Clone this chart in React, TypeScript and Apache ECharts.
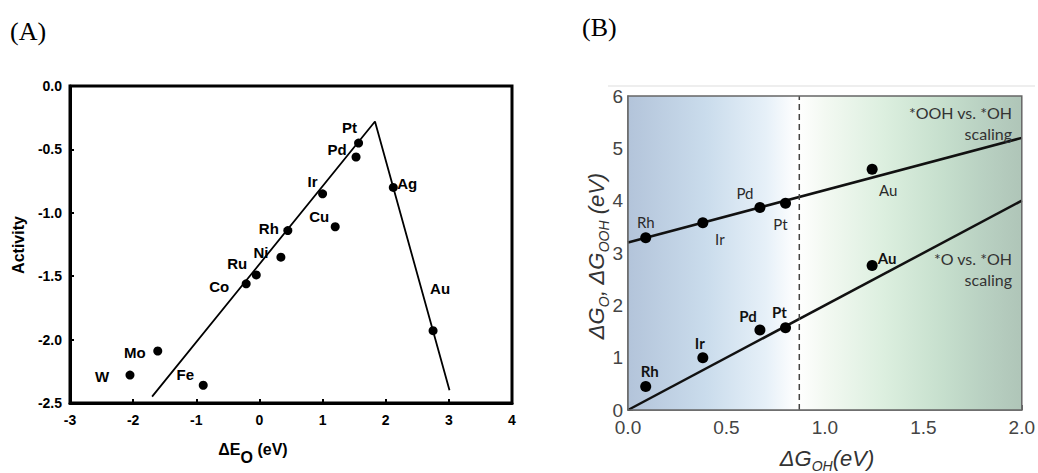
import React, { useEffect, useRef } from "react";
import * as echarts from "echarts";

// ---------- Panel A: volcano plot ----------
const volcanoMetals = ["W", "Mo", "Fe", "Co", "Ru", "Ni", "Rh", "Cu", "Ir", "Pd", "Pt", "Ag", "Au"];
const volcanoDeltaEO = [-2.05, -1.61, -0.89, -0.21, -0.05, 0.34, 0.45, 1.2, 1.0, 1.53, 1.57, 2.12, 2.75];
const volcanoActivity = [-2.28, -2.09, -2.36, -1.56, -1.49, -1.35, -1.14, -1.11, -0.85, -0.56, -0.45, -0.8, -1.93];
const volcanoLineX = [-1.7, 1.83, 3.01];
const volcanoLineY = [-2.45, -0.28, -2.4];

// ---------- Panel B: scaling relations ----------
const scalingMetals = ["Rh", "Ir", "Pd", "Pt", "Au"];
const scalingDeltaGOH = [0.09, 0.38, 0.67, 0.8, 1.24];
const scalingDeltaGOOH = [3.29, 3.58, 3.87, 3.95, 4.6];
const scalingDeltaGO = [0.45, 1.0, 1.53, 1.57, 2.76];
const oohFitX = [0, 2];
const oohFitY = [3.2, 5.2];
const oFitX = [0, 2];
const oFitY = [0, 4];
const boundaryX = 0.87;
const boundaryY = [0, 6];

// label placement (style only)
const offsetA: Record<string, [number, number]> = {
  W: [-28, 1], Mo: [-23, 1], Fe: [-18, -11], Co: [-27, 3], Ru: [-19, -11], Ni: [-20, -5],
  Rh: [-19, -2], Cu: [-16, -10], Ir: [-10, -12], Pd: [-19, -8], Pt: [-9, -16], Ag: [14, -4], Au: [7, -42],
};
const offsetOOH: Record<string, [number, number]> = {
  Rh: [0, -16], Ir: [17, 16], Pd: [-15, -14], Pt: [-5, 21], Au: [16, 21],
};
const offsetO: Record<string, [number, number]> = {
  Rh: [4, -15], Ir: [-3, -15], Pd: [-12, -14], Pt: [-6, -16], Au: [15, -8],
};

const SANS = "'Liberation Sans', Arial, sans-serif";
const HUM = "Lato, 'Open Sans', sans-serif";

function pts(xs: number[], ys: number[]) {
  return xs.map((x, i) => [x, ys[i]]);
}

export default function App() {
  const ref = useRef<HTMLDivElement>(null);
  useEffect(() => {
    if (!ref.current) return;
    const chart = echarts.init(ref.current, undefined, { renderer: "svg" });

    const bg = new echarts.graphic.LinearGradient(0, 0, 1, 0, [
      { offset: 0, color: "#b3c4da" },
      { offset: 0.2, color: "#cadcec" },
      { offset: 0.35, color: "#e6f0f8" },
      { offset: 0.43, color: "#ffffff" },
      { offset: 0.5, color: "#f3f9f2" },
      { offset: 0.65, color: "#dcefdf" },
      { offset: 0.8, color: "#c6dfcd" },
      { offset: 0.9, color: "#b9d1c2" },
      { offset: 1, color: "#afc5b8" },
    ]);

    const labelA = {
      show: true, position: "inside", color: "#000", fontSize: 15, fontWeight: "bold", fontFamily: SANS,
      textBorderWidth: 0, textBorderColor: "transparent",
      formatter: (p: any) => volcanoMetals[p.dataIndex],
    };

    const option: any = {
      animation: false,
      backgroundColor: "#ffffff",
      grid: [
        { left: 70, top: 86, width: 442, height: 317, show: true, borderColor: "#000", borderWidth: 3, z: 3 },
        { left: 628, top: 96, width: 394, height: 314, show: true, borderColor: "#666", borderWidth: 1.5, z: 3 },
      ],
      xAxis: [
        {
          gridIndex: 0, type: "value", min: -3, max: 4, interval: 1,
          axisLine: { show: true, onZero: false, lineStyle: { color: "#000", width: 3 } },
          axisTick: { show: true, inside: true, length: 4, lineStyle: { color: "#000", width: 2 } },
          axisLabel: { color: "#000", fontSize: 14, fontWeight: "bold", fontFamily: SANS, margin: 10 },
          splitLine: { show: false },
        },
        {
          gridIndex: 1, type: "value", min: 0, max: 2, interval: 0.5,
          axisLine: { show: true, onZero: false, lineStyle: { color: "#666", width: 1.5 } },
          axisTick: { show: true, inside: true, length: 5, lineStyle: { color: "#666", width: 1 } },
          axisLabel: { color: "#444", fontSize: 19, lineHeight: 19, fontFamily: SANS, margin: 8, formatter: (v: number) => v.toFixed(1) },
          splitLine: { show: false },
        },
      ],
      yAxis: [
        {
          gridIndex: 0, type: "value", min: -2.5, max: 0, interval: 0.5,
          axisLine: { show: true, onZero: false, lineStyle: { color: "#000", width: 3 } },
          axisTick: { show: true, inside: true, length: 4, lineStyle: { color: "#000", width: 2 } },
          axisLabel: { color: "#000", fontSize: 14, fontWeight: "bold", fontFamily: SANS, margin: 8, formatter: (v: number) => v.toFixed(1) },
          splitLine: { show: false },
        },
        {
          gridIndex: 1, type: "value", min: 0, max: 6, interval: 1,
          axisLine: { show: true, onZero: false, lineStyle: { color: "#666", width: 1.5 } },
          axisTick: { show: true, inside: true, length: 5, lineStyle: { color: "#666", width: 1 } },
          axisLabel: { color: "#444", fontSize: 19, lineHeight: 17, fontFamily: SANS, margin: 5, verticalAlign: "middle" },
          splitLine: { show: false },
        },
      ],
      series: [
        // background gradient of panel B
        {
          type: "scatter", xAxisIndex: 1, yAxisIndex: 1, z: -1, silent: true,
          data: [[0, 0]], symbolSize: 0,
          markArea: {
            silent: true,
            itemStyle: { color: bg },
            data: [[{ coord: [0, 0] }, { coord: [2, 6] }]],
          },
        },
        // Panel A volcano lines
        {
          type: "line", xAxisIndex: 0, yAxisIndex: 0, data: pts(volcanoLineX, volcanoLineY),
          symbol: "none", lineStyle: { color: "#000", width: 1.8 }, z: 2,
        },
        {
          type: "scatter", xAxisIndex: 0, yAxisIndex: 0, symbolSize: 9, z: 4,
          itemStyle: { color: "#000", opacity: 1 },
          data: volcanoMetals.map((m, i) => ({
            value: [volcanoDeltaEO[i], volcanoActivity[i]],
            label: { offset: offsetA[m] },
          })),
          label: labelA,
        },
        // Panel B lines
        {
          type: "line", xAxisIndex: 1, yAxisIndex: 1, data: pts(oohFitX, oohFitY),
          symbol: "none", lineStyle: { color: "#111", width: 2.5 }, z: 2,
        },
        {
          type: "line", xAxisIndex: 1, yAxisIndex: 1, data: pts(oFitX, oFitY),
          symbol: "none", lineStyle: { color: "#111", width: 2.5 }, z: 2,
        },
        {
          type: "line", xAxisIndex: 1, yAxisIndex: 1, data: boundaryY.map((y) => [boundaryX, y]),
          symbol: "none", lineStyle: { color: "#444", width: 1.5, type: [6, 4] }, z: 2,
        },
        {
          type: "scatter", xAxisIndex: 1, yAxisIndex: 1, symbolSize: 11, z: 4,
          itemStyle: { color: "#000", opacity: 1 },
          data: scalingMetals.map((m, i) => ({
            value: [scalingDeltaGOH[i], scalingDeltaGOOH[i]],
            label: { offset: offsetOOH[m] },
          })),
          label: {
            show: true, position: "inside", color: "#2a2a2a", fontSize: 15, fontFamily: HUM,
            textBorderWidth: 0, textBorderColor: "transparent",
            formatter: (p: any) => scalingMetals[p.dataIndex],
          },
        },
        {
          type: "scatter", xAxisIndex: 1, yAxisIndex: 1, symbolSize: 11, z: 4,
          itemStyle: { color: "#000", opacity: 1 },
          data: scalingMetals.map((m, i) => ({
            value: [scalingDeltaGOH[i], scalingDeltaGO[i]],
            label: { offset: offsetO[m] },
          })),
          label: {
            show: true, position: "inside", color: "#111", fontSize: 15, fontWeight: "bold", fontFamily: HUM,
            textBorderWidth: 0, textBorderColor: "transparent",
            formatter: (p: any) => scalingMetals[p.dataIndex],
          },
        },
      ],
      graphic: [
        {
          type: "text", left: 10, top: 18,
          style: { text: "(A)", fontSize: 26, fontFamily: "'Liberation Serif', 'Times New Roman', serif", fill: "#000" },
        },
        {
          type: "text", left: 582, top: 14,
          style: { text: "(B)", fontSize: 26, fontFamily: "'Liberation Serif', 'Times New Roman', serif", fill: "#000" },
        },
        {
          type: "line", shape: { x1: 608, y1: 86, x2: 1035, y2: 86 },
          style: { stroke: "#dddddd", lineWidth: 1 },
        },
        {
          type: "text", x: 18, y: 245, rotation: Math.PI / 2,
          style: {
            text: "Activity", fontSize: 16, fontWeight: "bold", fontFamily: SANS, fill: "#000",
            align: "center", verticalAlign: "middle",
          },
        },
        {
          type: "text", x: 253, y: 453,
          style: {
            text: "{a|ΔE}{s|O}{a| (eV)}", align: "center", verticalAlign: "middle",
            rich: {
              a: { fontSize: 16, fontWeight: "bold", fontFamily: SANS, fill: "#000", color: "#000", lineHeight: 24, verticalAlign: "top" },
              s: { fontSize: 16, fontWeight: "bold", fontFamily: SANS, fill: "#000", color: "#000", lineHeight: 10, verticalAlign: "bottom" },
            },
          },
        },
        {
          type: "text", x: 598, y: 256, rotation: Math.PI / 2,
          style: {
            text: "{a|ΔG}{s|O}{a|, ΔG}{s|OOH}{a| (eV)}", align: "center", verticalAlign: "middle",
            rich: {
              a: { fontSize: 22, fontStyle: "italic", fontFamily: SANS, fill: "#333", color: "#333", lineHeight: 26, verticalAlign: "top" },
              s: { fontSize: 14, fontStyle: "italic", fontFamily: SANS, fill: "#333", color: "#333", lineHeight: 12, verticalAlign: "bottom" },
            },
          },
        },
        {
          type: "text", x: 827, y: 460,
          style: {
            text: "{a|ΔG}{s|OH}{a|(eV)}", align: "center", verticalAlign: "middle",
            rich: {
              a: { fontSize: 22, fontStyle: "italic", fontFamily: SANS, fill: "#333", color: "#333", lineHeight: 26, verticalAlign: "top" },
              s: { fontSize: 14, fontStyle: "italic", fontFamily: SANS, fill: "#333", color: "#333", lineHeight: 12, verticalAlign: "bottom" },
            },
          },
        },
        {
          type: "text", x: 1012, y: 123, z: 10,
          style: {
            text: "*OOH vs. *OH\nscaling", align: "right", verticalAlign: "middle",
            fontSize: 16, lineHeight: 21, fontFamily: HUM, fill: "#333",
          },
        },
        {
          type: "text", x: 1012, y: 269, z: 10,
          style: {
            text: "*O vs. *OH\nscaling", align: "right", verticalAlign: "middle",
            fontSize: 16, lineHeight: 21, fontFamily: HUM, fill: "#333",
          },
        },
      ],
    };
    chart.setOption(option);
    return () => chart.dispose();
  }, []);
  return (
    <div
      ref={ref}
      style={{ position: "fixed", left: 0, top: 0, width: 1038, height: 473, background: "#fff" }}
    />
  );
}
